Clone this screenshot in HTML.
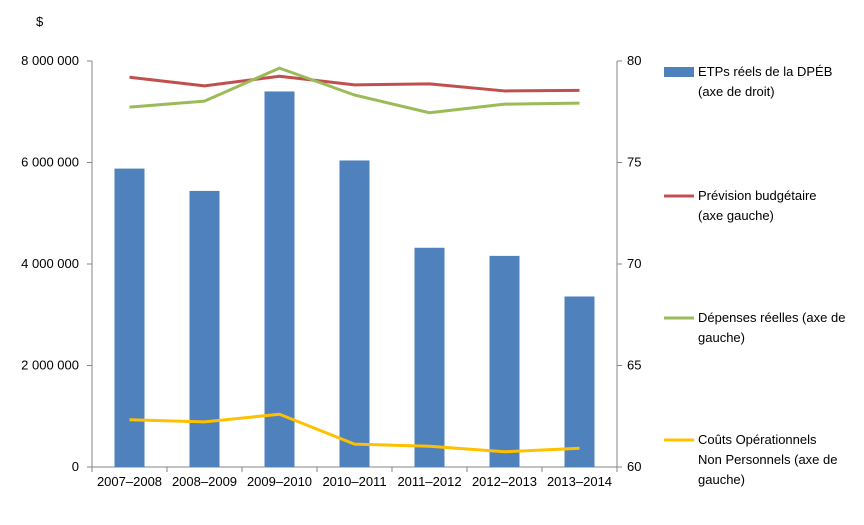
<!DOCTYPE html>
<html><head><meta charset="utf-8"><style>
body{margin:0;background:#fff;font-family:"Liberation Sans",sans-serif;}
svg text{font-family:"Liberation Sans",sans-serif;font-size:13px;fill:#000;}
</style></head><body>
<svg id="c" width="864" height="520"></svg>
<script>
const categories=["2007–2008","2008–2009","2009–2010","2010–2011","2011–2012","2012–2013","2013–2014"];
const etps=[74.7,73.6,78.5,75.1,70.8,70.4,68.4];
const prevision=[7680000,7510000,7700000,7530000,7550000,7410000,7420000];
const depenses=[7090000,7210000,7860000,7330000,6980000,7150000,7170000];
const couts=[930000,890000,1040000,450000,410000,300000,370000];
const leftTicks=[0,2000000,4000000,6000000,8000000];
const leftLabels=["0","2 000 000","4 000 000","6 000 000","8 000 000"];
const rightTicks=[60,65,70,75,80];

const svg=document.getElementById('c');const NS="http://www.w3.org/2000/svg";
const L=92,R=617,T=61,B=467,step=(R-L)/categories.length;
const x=i=>L+step*(i+0.5);
const yL=v=>B-(v/8000000)*(B-T);
const yR=v=>B-((v-60)/20)*(B-T);
function el(t,a,txt){const e=document.createElementNS(NS,t);for(const k in a)e.setAttribute(k,a[k]);if(txt!==undefined)e.textContent=txt;svg.appendChild(e);return e;}
let e;
e=el('line',{x1:L,y1:B,x2:R,y2:B,stroke:'#868686'});


e=el('line',{x1:L,y1:T,x2:L,y2:B,stroke:'#868686'});


e=el('line',{x1:R,y1:T,x2:R,y2:B,stroke:'#868686'});


leftTicks.forEach((v,i)=>{el('line',{x1:L-5,y1:yL(v),x2:L,y2:yL(v),stroke:'#868686'});
e=el('text',{x:L-13,y:yL(v)+4,'text-anchor':'end'},leftLabels[i]);

});
rightTicks.forEach(v=>{el('line',{x1:R,y1:yR(v),x2:R+5,y2:yR(v),stroke:'#868686'});
e=el('text',{x:R+10,y:yR(v)+4},String(v));

});
for(let i=0;i<=categories.length;i++)el('line',{x1:L+step*i,y1:B,x2:L+step*i,y2:B+5,stroke:'#868686'});
e=el('text',{x:36,y:26},'$');


categories.forEach((c,i)=>{e=el('text',{x:x(i),y:B+19,'text-anchor':'middle','font-size':'13.5'},c);

});
etps.forEach((v,i)=>{e=el('rect',{x:x(i)-15,y:yR(v),width:30,height:B-yR(v),fill:'#4f81bd'});

});
function line(arr,col,name){const p=arr.map((v,i)=>x(i)+','+yL(v)).join(' ');
e=el('polyline',{points:p,fill:'none',stroke:col,'stroke-width':3,'stroke-linejoin':'round'});

}
line(prevision,'#c0504d','line-prevision');
line(depenses,'#9bbb59','line-depenses');
line(couts,'#ffc000','line-couts');
const lg=[['#4f81bd',72,['ETPs réels de la DPÉB','(axe de droit)'],1],['#c0504d',196,['Prévision budgétaire','(axe gauche)'],0],['#9bbb59',318,['Dépenses réelles (axe de','gauche)'],0],['#ffc000',440,['Coûts Opérationnels','Non Personnels (axe de','gauche)'],0]];
lg.forEach(([c,y,t,bar])=>{
 if(bar){e=el('rect',{x:664,y:y-5,width:30,height:10,fill:c});}else{e=el('line',{x1:664,y1:y,x2:694,y2:y,stroke:c,'stroke-width':3});}
 
 
 t.forEach((s,j)=>{e=el('text',{x:698,y:y+4+j*20,'font-size':'13.4'},s);
 
 });
});
</script></body></html>
